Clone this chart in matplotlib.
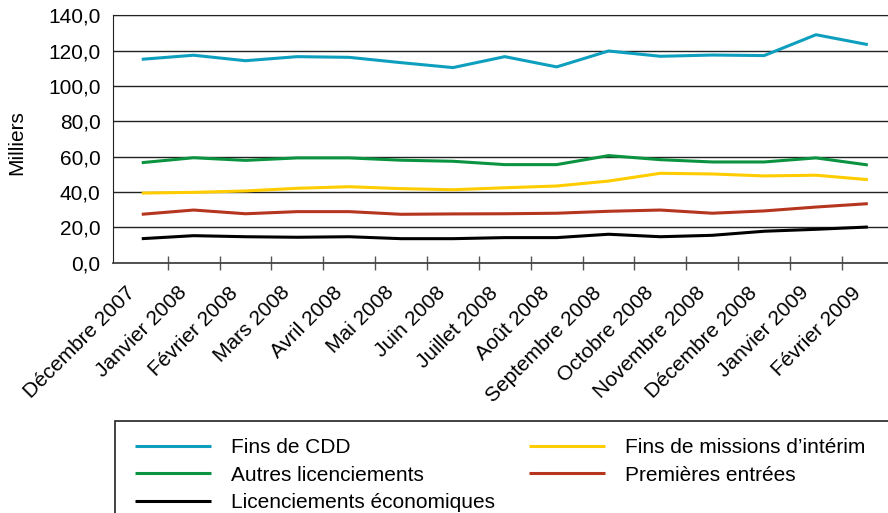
import numpy as np
import matplotlib
matplotlib.use("Agg")
import matplotlib.pyplot as plt
from matplotlib.patches import Rectangle
from matplotlib.transforms import ScaledTranslation
from matplotlib.ticker import FuncFormatter, FixedLocator

plt.rcParams['font.family'] = ['Liberation Sans', 'DejaVu Sans']

# entrées à Pôle emploi par motif, en milliers
mois = ["Décembre 2007", "Janvier 2008", "Février 2008", "Mars 2008", "Avril 2008",
        "Mai 2008", "Juin 2008", "Juillet 2008", "Août 2008", "Septembre 2008",
        "Octobre 2008", "Novembre 2008", "Décembre 2008", "Janvier 2009", "Février 2009"]
fins_cdd = [115.1, 117.4, 114.3, 116.6, 116.2, 113.2, 110.4, 116.6, 110.8, 119.8,
            116.8, 117.5, 117.2, 129.0, 123.4]
autres_lic = [56.6, 59.4, 57.9, 59.3, 59.3, 58.0, 57.4, 55.5, 55.5, 60.6,
              58.3, 57.0, 57.0, 59.3, 55.3]
fins_interim = [39.4, 39.8, 40.6, 42.1, 43.0, 41.9, 41.3, 42.4, 43.4, 46.2,
                50.6, 50.2, 49.1, 49.5, 47.0]
premieres = [27.4, 29.8, 27.7, 28.9, 28.9, 27.4, 27.6, 27.7, 28.0, 29.1,
             29.8, 28.0, 29.3, 31.5, 33.4]
lic_eco = [13.6, 15.3, 14.7, 14.4, 14.7, 13.6, 13.6, 14.2, 14.2, 16.1,
           14.7, 15.5, 17.8, 18.9, 20.2]

series = [
    ("Fins de CDD", fins_cdd, "#0e9fbf"),
    ("Autres licenciements", autres_lic, "#0b9440"),
    ("Licenciements économiques", lic_eco, "#000000"),
    ("Fins de missions d’intérim", fins_interim, "#ffcc00"),
    ("Premières entrées", premieres, "#b5351f"),
]

fig = plt.figure(figsize=(8.88, 5.13), dpi=100)
ax = fig.add_axes([0.1275, 0.4879, 0.879, 0.4823])

x = np.arange(len(mois))
for nom, vals, col in series:
    ax.plot(x, vals, color=col, lw=2.2, label=nom, solid_capstyle='butt')

ax.set_xlim(-0.55, 14.5)
ax.set_ylim(0, 140)
ax.set_yticks(np.arange(0, 141, 20))
ax.yaxis.set_major_formatter(FuncFormatter(lambda v, p: f"{v:.1f}".replace(".", ",")))
ax.yaxis.grid(True, color="#222222", lw=1.0)
ax.set_axisbelow(True)
ax.tick_params(axis='y', length=0, pad=9, labelsize=15)

# traits de graduation entre les mois, libellés au centre
ax.xaxis.set_major_locator(FixedLocator(np.arange(0.5, 14.5, 1)))
ax.xaxis.set_major_formatter(FuncFormatter(lambda v, p: ""))
ax.xaxis.set_minor_locator(FixedLocator(x))
ax.set_xticklabels(mois, minor=True, rotation=45, ha='right', va='center',
                   rotation_mode='anchor', fontsize=15)
ax.tick_params(axis='x', which='major', direction='inout', length=10.5,
               width=1.0, color='#555555')
ax.tick_params(axis='x', which='minor', length=0, pad=0)
off = ScaledTranslation(-0.10, -0.27, fig.dpi_scale_trans)
for lab in ax.get_xticklabels(minor=True):
    lab.set_transform(lab.get_transform() + off)

ax.spines['right'].set_visible(False)
ax.spines['top'].set_color('#222222')
ax.spines['left'].set_color('#222222')
ax.spines['bottom'].set_color('#444444')
ax.spines['bottom'].set_linewidth(1.3)

ax.set_ylabel("Milliers", fontsize=15)
ax.yaxis.set_label_coords(-0.112, 0.485)

# cadre de la légende
fig.patches.append(Rectangle((115 / 888, -0.05), 1.0, 0.05 + 1 - 421 / 513,
                             transform=fig.transFigure, fill=False,
                             edgecolor='#222222', lw=1.2))
fig.legend(loc='upper left', bbox_to_anchor=(135 / 888, 1 - 438 / 513), ncol=2,
           frameon=False, fontsize=15, handlelength=3.65, handletextpad=0.95,
           labelspacing=0.42, columnspacing=1.63, borderpad=0, borderaxespad=0)

fig.savefig("out.png", dpi=100)
